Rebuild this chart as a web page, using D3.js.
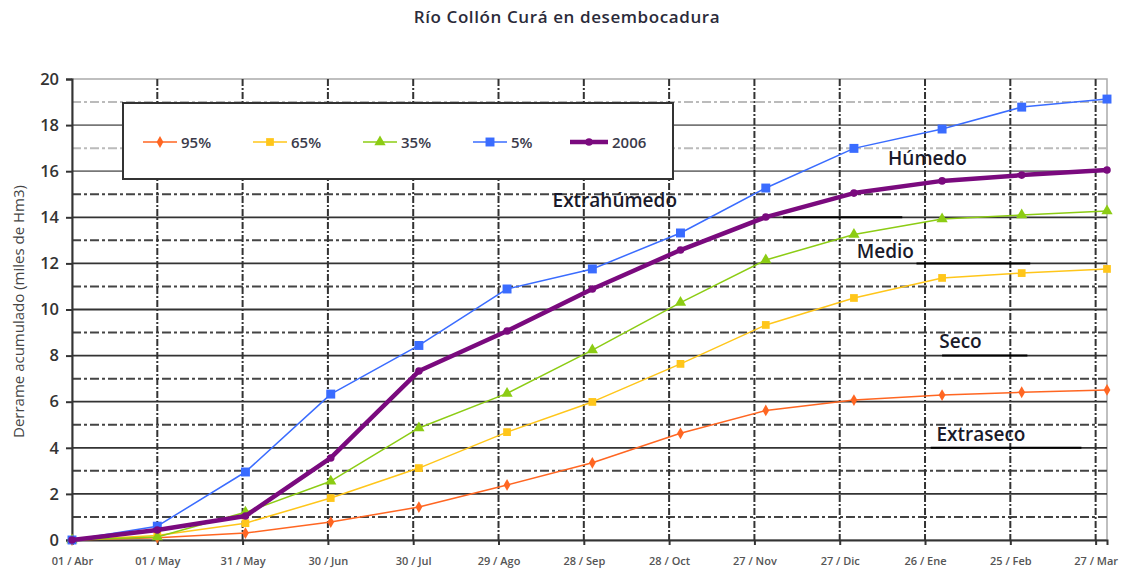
<!DOCTYPE html>
<html>
<head>
<meta charset="utf-8">
<script src="https://cdn.jsdelivr.net/npm/d3@7"></script>
<style>
  html, body { margin: 0; padding: 0; background: #fff; }
  svg { display: block; }
</style>
</head>
<body>
<svg id="chart" width="1126" height="574"></svg>
<script>
// Days elapsed since 01/Abr for each monthly reading
const dayOffsets = [0, 30, 61, 91, 122, 153, 183, 214, 244, 275, 306, 334, 364];

// Cumulative discharge (thousands of Hm3) per exceedance probability
const p95  = [0, 0.1, 0.3, 0.78, 1.43, 2.39, 3.35, 4.63, 5.62, 6.07, 6.29, 6.41, 6.51];
const p65  = [0, 0.2, 0.73, 1.82, 3.12, 4.68, 5.99, 7.64, 9.33, 10.5, 11.37, 11.58, 11.76];
const p35  = [0, 0.13, 1.2, 2.55, 4.86, 6.36, 8.24, 10.3, 12.15, 13.25, 13.93, 14.1, 14.27];
const p5   = [0, 0.6, 2.95, 6.33, 8.44, 10.89, 11.76, 13.32, 15.27, 16.99, 17.83, 18.78, 19.13];
const y2006 = [0, 0.43, 1.04, 3.56, 7.33, 9.07, 10.89, 12.58, 14.01, 15.05, 15.58, 15.83, 16.05];

const seriesNames = ["95%", "65%", "35%", "5%", "2006"];

// X axis ticks every 30 days
const tickDays = [0, 30, 60, 90, 120, 150, 180, 210, 240, 270, 300, 330, 360];
const tickLabels = ["01/Abr", "01/May", "31/May", "30/Jun", "30/Jul", "29/Ago", "28/Sep",
                    "28/Oct", "27/Nov", "27/Dic", "26/Ene", "25/Feb", "27/Mar"];

const yTicks = [0, 2, 4, 6, 8, 10, 12, 14, 16, 18, 20];

// Hydrological year classes and where each name sits
const classLabels = ["Extrahúmedo", "Húmedo", "Medio", "Seco", "Extraseco"];
const classDays   = [169, 287, 276, 305, 304];
const classValues = [14.45, 16.27, 12.23, 8.33, 4.3];
// Level that bounds each class
const boundaryValues = [14, 12, 8, 4];
const boundaryFrom   = [250, 297, 306, 302];
const boundaryTo     = [292, 337, 336, 355];

const svg = d3.select("#chart");
const W = 1126, H = 574;
const margin = { left: 72, top: 79, right: 19, bottom: 34 };
const plotW = W - margin.left - margin.right;
const plotH = H - margin.top - margin.bottom;

const x = d3.scaleLinear().domain([0, 364]).range([margin.left, margin.left + plotW]);
const y = d3.scaleLinear().domain([0, 20]).range([margin.top + plotH, margin.top]);

const font = "'Open Sans', Lato, sans-serif";

// Title
svg.append("text")
  .attr("x", 567).attr("y", 23)
  .attr("text-anchor", "middle")
  .attr("font-family", font).attr("font-weight", 600)
  .attr("font-size", 17).attr("letter-spacing", 0.6).attr("fill", "#2b2b3a")
  .text("Río Collón Curá en desembocadura");

// Plot frame
svg.append("rect")
  .attr("x", margin.left).attr("y", margin.top)
  .attr("width", plotW).attr("height", plotH)
  .attr("fill", "#fff").attr("stroke", "#aaa").attr("stroke-width", 1.5);

const grid = svg.append("g");

// Odd-valued dash-dot horizontal lines
const minor = d3.range(1, 20, 2);
grid.selectAll("line.minor").data(minor).join("line")
  .attr("x1", margin.left).attr("x2", margin.left + plotW)
  .attr("y1", d => y(d)).attr("y2", d => y(d))
  .attr("stroke", d => d >= 17 ? "#bbb" : "#444")
  .attr("stroke-width", 2)
  .attr("stroke-dasharray", "9,3,3,3");

// Even-valued solid horizontal lines
grid.selectAll("line.major").data(yTicks.filter(d => d > 0 && d < 20)).join("line")
  .attr("x1", margin.left).attr("x2", margin.left + plotW)
  .attr("y1", d => y(d)).attr("y2", d => y(d))
  .attr("stroke", d => d >= 16 ? "#777" : "#333")
  .attr("stroke-width", 1.8);

// Vertical dashed lines at each date tick
grid.selectAll("line.v").data(tickDays.slice(1)).join("line")
  .attr("x1", d => x(d)).attr("x2", d => x(d))
  .attr("y1", margin.top).attr("y2", margin.top + plotH)
  .attr("stroke", "#333").attr("stroke-width", 2)
  .attr("stroke-dasharray", "7,2,2,2");

// Class boundary segments
grid.selectAll("line.bound").data(boundaryValues).join("line")
  .attr("x1", (d, i) => x(boundaryFrom[i])).attr("x2", (d, i) => x(boundaryTo[i]))
  .attr("y1", d => y(d)).attr("y2", d => y(d))
  .attr("stroke", "#000").attr("stroke-width", 2);

// Axes
const yAxis = d3.axisLeft(y).tickValues(yTicks).tickSize(6).tickPadding(7);
const gy = svg.append("g").attr("transform", `translate(${margin.left},0)`).call(yAxis);
gy.select(".domain").attr("stroke", "#333").attr("stroke-width", 2);
gy.selectAll(".tick line").attr("stroke", "#333").attr("stroke-width", 2);
gy.selectAll(".tick text")
  .attr("font-family", font).attr("font-weight", 600)
  .attr("font-size", 16.5).attr("fill", "#333");

const xAxis = d3.axisBottom(x).tickValues(tickDays)
  .tickFormat((d, i) => tickLabels[i].replace("/", " / ")).tickSize(5).tickPadding(12);
const gx = svg.append("g").attr("transform", `translate(0,${margin.top + plotH})`).call(xAxis);
gx.select(".domain").attr("stroke", "#333").attr("stroke-width", 2);
gx.selectAll(".tick line").attr("stroke", "#333").attr("stroke-width", 2);
gx.selectAll(".tick text")
  .attr("font-family", font).attr("font-weight", 600)
  .attr("font-size", 11).attr("fill", "#555");

// Y axis title
svg.append("text")
  .attr("transform", `translate(24,${margin.top + plotH / 2 + 2}) rotate(-90)`)
  .attr("text-anchor", "middle")
  .attr("font-family", font).attr("font-size", 15).attr("fill", "#444")
  .text("Derrame acumulado (miles de Hm3)");

// Class labels
svg.append("g").selectAll("text").data(classLabels).join("text")
  .attr("x", (d, i) => x(classDays[i])).attr("y", (d, i) => y(classValues[i]))
  .attr("font-family", font).attr("font-weight", 600)
  .attr("font-size", 19).attr("fill", "#1a1a2a")
  .text(d => d);

// Series
const series = [
  { name: seriesNames[0], values: p95,   color: "#ff6622", symbol: d3.symbolDiamond,  size: 40, width: 1.5 },
  { name: seriesNames[1], values: p65,   color: "#ffc61a", symbol: d3.symbolSquare,   size: 60, width: 1.5 },
  { name: seriesNames[2], values: p35,   color: "#8ccc14", symbol: d3.symbolTriangle, size: 55, width: 1.5 },
  { name: seriesNames[3], values: p5,    color: "#3a6cff", symbol: d3.symbolSquare,   size: 80, width: 1.5 },
  { name: seriesNames[4], values: y2006, color: "#7a0a7e", symbol: d3.symbolCircle,   size: 45, width: 4.5 }
];

const line = d3.line().x((d, i) => x(dayOffsets[i])).y(d => y(d));

const sg = svg.append("g");
series.forEach(s => {
  const g = sg.append("g");
  g.append("path").datum(s.values)
    .attr("d", line).attr("fill", "none")
    .attr("stroke", s.color).attr("stroke-width", s.width)
    .attr("stroke-linejoin", "round");
  g.selectAll("path.m").data(s.values).join("path")
    .attr("transform", (d, i) => `translate(${x(dayOffsets[i])},${y(d)})`)
    .attr("d", d3.symbol().type(s.symbol).size(s.size))
    .attr("fill", s.color);
});

// Legend
const lg = svg.append("g");
lg.append("rect")
  .attr("x", 123).attr("y", 103).attr("width", 550).attr("height", 76)
  .attr("fill", "#fff").attr("stroke", "#333").attr("stroke-width", 2);

const legendX = [143, 253, 363, 473, 570];
const legendLen = [34, 34, 34, 34, 38];
series.forEach((s, i) => {
  const ly = 142;
  const x0 = legendX[i], x1 = x0 + legendLen[i];
  lg.append("line")
    .attr("x1", x0).attr("x2", x1).attr("y1", ly).attr("y2", ly)
    .attr("stroke", s.color).attr("stroke-width", s.width);
  lg.append("path")
    .attr("transform", `translate(${(x0 + x1) / 2},${ly})`)
    .attr("d", d3.symbol().type(s.symbol).size(s.size))
    .attr("fill", s.color);
  lg.append("text")
    .attr("x", x1 + 4).attr("y", ly + 5.5)
    .attr("font-family", font).attr("font-weight", 600)
    .attr("font-size", 15).attr("fill", "#3a3a4a")
    .text(s.name);
});
</script>
</body>
</html>
